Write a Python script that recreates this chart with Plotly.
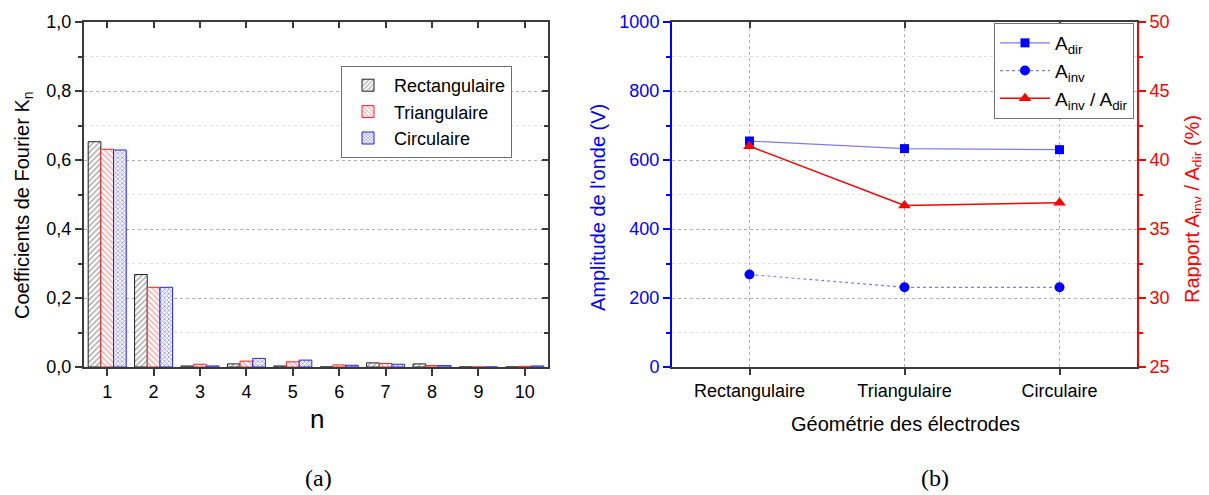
import plotly.graph_objects as go

# ---------------- data ----------------
n_vals = [1, 2, 3, 4, 5, 6, 7, 8, 9, 10]
k_rect = [0.653, 0.268, 0.003, 0.009, 0.003, 0.0, 0.012, 0.009, 0.0, 0.0]
k_tri = [0.631, 0.231, 0.008, 0.017, 0.015, 0.006, 0.010, 0.004, 0.0, 0.002]
k_circ = [0.629, 0.231, 0.003, 0.025, 0.020, 0.005, 0.008, 0.004, 0.0, 0.003]

geometries = ["Rectangulaire", "Triangulaire", "Circulaire"]
a_dir = [655, 633, 630]
a_inv = [268, 231, 231]
ratio = [41.0, 36.7, 36.9]

# page body has an 8px default margin: map page pixels -> figure fractions
OFF = 8
W, H = 1209 - OFF, 495 - OFF
FONT = "Liberation Sans, Arial, sans-serif"
SERIF = "Liberation Serif, Times New Roman, serif"


def px_x(p):
    return (p - OFF) / W


def px_y(p):
    return 1 - (p - OFF) / H


fig = go.Figure()

# ---------------- panel (a) bars ----------------
fig.add_trace(go.Bar(
    x=n_vals, y=k_rect, name="Rectangulaire", xaxis="x", yaxis="y", legend="legend",
    marker=dict(color="white", line=dict(color="#222222", width=1),
                pattern=dict(shape="/", fgcolor="#333333", bgcolor="white", size=4, solidity=0.3)),
))
fig.add_trace(go.Bar(
    x=n_vals, y=k_tri, name="Triangulaire", xaxis="x", yaxis="y", legend="legend",
    marker=dict(color="white", line=dict(color="#ff2020", width=1),
                pattern=dict(shape="\\", fgcolor="#ff3030", bgcolor="white", size=4, solidity=0.3)),
))
fig.add_trace(go.Bar(
    x=n_vals, y=k_circ, name="Circulaire", xaxis="x", yaxis="y", legend="legend",
    marker=dict(color="white", line=dict(color="#2020ff", width=1),
                pattern=dict(shape="x", fgcolor="#2020ff", bgcolor="white", size=3, solidity=0.45)),
))
fig.add_trace(go.Scatter(x=[None], y=[None], xaxis="x3", yaxis="y3", showlegend=False, hoverinfo="skip"))

# ---------------- panel (b) lines ----------------
fig.add_trace(go.Scatter(
    x=geometries, y=a_dir, name="A<sub>dir</sub>", xaxis="x2", yaxis="y2", legend="legend2",
    mode="lines+markers", line=dict(color="#7a7aff", width=1.2),
    marker=dict(symbol="square", size=9, color="#0000ff"),
))
fig.add_trace(go.Scatter(
    x=geometries, y=a_inv, name="A<sub>inv</sub>", xaxis="x2", yaxis="y2", legend="legend2",
    mode="lines+markers", line=dict(color="#7a7aff", width=1.2, dash="dot"),
    marker=dict(symbol="circle", size=10, color="#0000ff"),
))
fig.add_trace(go.Scatter(
    x=geometries, y=ratio, name="A<sub>inv</sub> / A<sub>dir</sub>", xaxis="x2", yaxis="y4",
    legend="legend2", mode="lines+markers", line=dict(color="#ff0000", width=1.5),
    marker=dict(symbol="triangle-up", size=11, color="#ff0000"),
))
fig.add_trace(go.Scatter(x=[None], y=[None], xaxis="x4", yaxis="y4", showlegend=False, hoverinfo="skip"))

xa_dom = [px_x(84), px_x(548)]
xb_dom = [px_x(672), px_x(1137)]
y_dom = [px_y(367), px_y(22)]

axis_line = "#3a3a3a"
grid_major = "#b0b0b0"
grid_minor = "#e0e0e0"

fig.update_layout(
    width=W, height=H,
    margin=dict(l=0, r=0, t=0, b=0, autoexpand=False),
    paper_bgcolor="white", plot_bgcolor="white",
    separators=",.",
    font=dict(family=FONT, color="black"),
    barmode="group", bargap=0.18, bargroupgap=0.0,
    showlegend=True,
    # panel (a)
    xaxis=dict(domain=xa_dom, anchor="y", range=[0.5, 10.5], tickmode="array", tickvals=n_vals,
               ticks="outside", ticklen=7, tickwidth=1.5, tickcolor=axis_line,
               showline=True, linecolor=axis_line, linewidth=2, showgrid=False, zeroline=False,
               tickfont=dict(size=18, family=FONT), automargin=False),
    yaxis=dict(domain=y_dom, anchor="x", range=[0, 1.0], tickmode="linear", tick0=0, dtick=0.2,
               tickformat=".1f", ticks="outside", ticklen=7, tickwidth=1.5, tickcolor=axis_line,
               showline=True, linecolor=axis_line, linewidth=2,
               showgrid=True, gridcolor=grid_major, griddash="dot", gridwidth=1, zeroline=False,
               minor=dict(dtick=0.1, ticks="outside", ticklen=4, tickcolor=axis_line,
                          showgrid=True, gridcolor=grid_minor, griddash="dot"),
               tickfont=dict(size=18, family=FONT), automargin=False),
    xaxis3=dict(overlaying="x", side="top", anchor="y", range=[0.5, 10.5], tickmode="array",
                tickvals=n_vals, ticks="inside", ticklen=6, tickwidth=1.5, tickcolor=axis_line,
                showline=True, linecolor=axis_line, linewidth=2, showgrid=False, zeroline=False,
                showticklabels=False),
    yaxis3=dict(overlaying="y", side="right", anchor="x", range=[0, 1.0], tickmode="linear",
                tick0=0, dtick=0.2, ticks="inside", ticklen=6, tickwidth=1.5, tickcolor=axis_line,
                showline=True, linecolor=axis_line, linewidth=2, showgrid=False, zeroline=False,
                showticklabels=False,
                minor=dict(dtick=0.1, ticks="inside", ticklen=4, tickcolor=axis_line)),
    # panel (b)
    xaxis2=dict(domain=xb_dom, anchor="y2", range=[-0.5, 2.5], type="category",
                ticks="outside", ticklen=6, tickwidth=1.5, tickcolor=axis_line,
                showline=True, linecolor=axis_line, linewidth=2,
                showgrid=True, gridcolor=grid_major, griddash="dot", zeroline=False,
                tickfont=dict(size=18, family=FONT), automargin=False),
    xaxis4=dict(overlaying="x2", side="top", anchor="y2", range=[-0.5, 2.5], type="category",
                categoryarray=geometries, ticks="inside", ticklen=6, tickwidth=1.5,
                tickcolor=axis_line, showline=True, linecolor=axis_line, linewidth=2,
                showgrid=False, zeroline=False, showticklabels=False),
    yaxis2=dict(domain=y_dom, anchor="x2", range=[0, 1000], tickmode="linear", tick0=0, dtick=200,
                ticks="outside", ticklen=7, tickwidth=1.5, tickcolor="#0000ff",
                showline=True, linecolor="#0000ff", linewidth=2,
                showgrid=True, gridcolor=grid_major, griddash="dot", zeroline=False,
                minor=dict(dtick=100, ticks="outside", ticklen=4, tickcolor="#0000ff",
                           showgrid=True, gridcolor=grid_minor, griddash="dot"),
                tickfont=dict(size=18, family=FONT, color="#0000ff"), automargin=False),
    yaxis4=dict(overlaying="y2", side="right", anchor="x2", range=[25, 50], tickmode="linear",
                tick0=25, dtick=5, ticks="outside", ticklen=7, tickwidth=1.5, tickcolor="#ff0000",
                showline=True, linecolor="#ff0000", linewidth=2, showgrid=False, zeroline=False,
                minor=dict(dtick=2.5, ticks="outside", ticklen=4, tickcolor="#ff0000"),
                tickfont=dict(size=18, family=FONT, color="#ff0000"), automargin=False),
    legend=dict(x=px_x(341), y=px_y(66), xanchor="left", yanchor="top",
                bgcolor="white", bordercolor="#707070", borderwidth=1,
                font=dict(size=18, family=FONT), tracegroupgap=0, itemwidth=42),
    legend2=dict(x=px_x(1134), y=px_y(23), xanchor="right", yanchor="top",
                 bgcolor="white", bordercolor="#707070", borderwidth=1,
                 font=dict(size=19, family=FONT), tracegroupgap=0, itemwidth=50),
    annotations=[
        dict(text="Coefficients de Fourier K<sub>n</sub>", x=px_x(24), y=px_y(205), xref="paper",
             yref="paper", textangle=-90, showarrow=False, xanchor="center", yanchor="middle",
             font=dict(size=20, family=FONT)),
        dict(text="n", x=px_x(317), y=px_y(419), xref="paper", yref="paper", showarrow=False,
             xanchor="center", yanchor="middle", font=dict(size=26, family=FONT)),
        dict(text="Amplitude de l'onde (V)", x=px_x(598), y=px_y(208), xref="paper", yref="paper",
             textangle=-90, showarrow=False, xanchor="center", yanchor="middle",
             font=dict(size=20, family=FONT, color="#0000ff")),
        dict(text="Rapport A<sub>inv</sub> / A<sub>dir</sub> (%)", x=px_x(1193), y=px_y(209),
             xref="paper", yref="paper", textangle=-90, showarrow=False, xanchor="center",
             yanchor="middle", font=dict(size=20, family=FONT, color="#ff0000")),
        dict(text="Géométrie des électrodes", x=px_x(905), y=px_y(424), xref="paper",
             yref="paper", showarrow=False, xanchor="center", yanchor="middle",
             font=dict(size=20, family=FONT)),
        dict(text="(a)", x=px_x(318), y=px_y(478), xref="paper", yref="paper", showarrow=False,
             xanchor="center", yanchor="middle", font=dict(size=24, family=SERIF)),
        dict(text="(b)", x=px_x(935), y=px_y(478), xref="paper", yref="paper", showarrow=False,
             xanchor="center", yanchor="middle", font=dict(size=24, family=SERIF)),
    ],
)

fig.write_html("out.html")
